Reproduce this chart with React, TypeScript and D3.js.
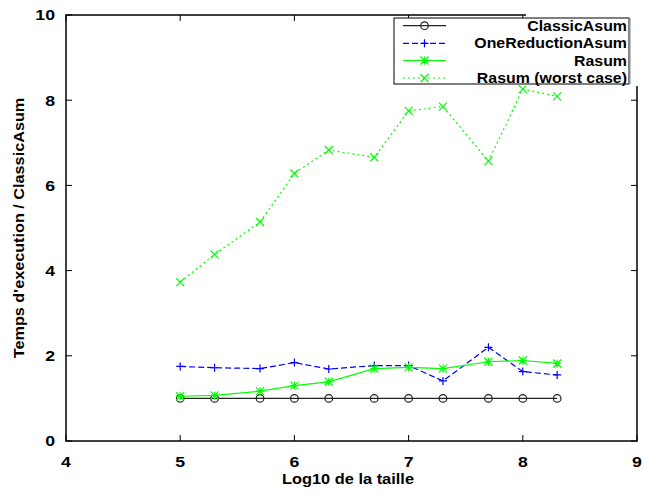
import React from "react";
import * as d3 from "d3";

const xValues = [5, 5.301, 5.699, 6, 6.301, 6.699, 7, 7.301, 7.699, 8, 8.301];
const classicAsum = [1, 1, 1, 1, 1, 1, 1, 1, 1, 1, 1];
const oneReductionAsum = [1.75, 1.72, 1.7, 1.84, 1.69, 1.77, 1.77, 1.41, 2.2, 1.63, 1.55];
const rasum = [1.05, 1.07, 1.17, 1.3, 1.39, 1.7, 1.73, 1.7, 1.86, 1.89, 1.82];
const rasumWorst = [3.73, 4.38, 5.14, 6.28, 6.83, 6.66, 7.75, 7.85, 6.57, 8.26, 8.09];
const xTicks = [4, 5, 6, 7, 8, 9];
const yTicks = [0, 2, 4, 6, 8, 10];
const seriesNames = ["ClassicAsum", "OneReductionAsum", "Rasum", "Rasum (worst case)"];

const W = 645, H = 492;
const L = 66, R = 637, T = 15, B = 441;
const FONT = "'Liberation Sans', Arial, Helvetica, sans-serif";

type Marker = "circle" | "plus" | "star" | "cross";

function MarkerShape({ type, x, y, color }: { type: Marker; x: number; y: number; color: string }) {
  const s = 4;
  if (type === "circle") return <circle cx={x} cy={y} r={3.8} fill="none" stroke={color} strokeWidth={1.2} />;
  const plus = `M${x - s},${y}H${x + s}M${x},${y - s}V${y + s}`;
  const cross = `M${x - s},${y - s}L${x + s},${y + s}M${x - s},${y + s}L${x + s},${y - s}`;
  const d = type === "plus" ? plus : type === "cross" ? cross : plus + cross;
  return <path d={d} stroke={color} strokeWidth={1.2} fill="none" />;
}

function T2({ x, y, anchor, size, sx, rotate, children }: { x: number; y: number; anchor: string; size: number; sx: number; rotate?: number; children: React.ReactNode }) {
  return (
    <text
      transform={`translate(${x},${y})${rotate ? ` rotate(${rotate})` : ""} scale(${sx},1)`}
      textAnchor={anchor}
      fontSize={size}
      fontWeight="bold"
    >
      {children}
    </text>
  );
}

export default function App() {
  const x = d3.scaleLinear().domain([4, 9]).range([L, R]);
  const y = d3.scaleLinear().domain([0, 10]).range([B, T]);
  const line = d3.line<[number, number]>().x((d) => x(d[0])).y((d) => y(d[1]));

  const series = [
    { name: seriesNames[0], vals: classicAsum, color: "#222", dash: undefined as string | undefined, marker: "circle" as Marker },
    { name: seriesNames[1], vals: oneReductionAsum, color: "#0000ff", dash: "6,3", marker: "plus" as Marker },
    { name: seriesNames[2], vals: rasum, color: "#00ff00", dash: undefined, marker: "star" as Marker },
    { name: seriesNames[3], vals: rasumWorst, color: "#00ff00", dash: "2,3", marker: "cross" as Marker },
  ];

  const legendRows = [25.7, 43.3, 60.5, 78];

  return (
    <svg width={W} height={H} style={{ position: "absolute", left: 0, top: 0, background: "#fff" }} fontFamily={FONT}>
      <rect x={0} y={0} width={W} height={H} fill="#fff" />
      {/* ticks */}
      {xTicks.map((t) => (
        <g key={"xt" + t}>
          <line x1={x(t)} x2={x(t)} y1={B} y2={B - 6} stroke="#000" />
          <line x1={x(t)} x2={x(t)} y1={T} y2={T + 6} stroke="#000" />
          <T2 x={x(t)} y={467} anchor="middle" size={15} sx={1.18}>{t}</T2>
        </g>
      ))}
      {yTicks.map((t) => (
        <g key={"yt" + t}>
          <line x1={L} x2={L + 6} y1={y(t)} y2={y(t)} stroke="#000" />
          <line x1={R} x2={R - 6} y1={y(t)} y2={y(t)} stroke="#000" />
          <T2 x={55} y={y(t) + 5.3} anchor="end" size={15} sx={1.18}>{t}</T2>
        </g>
      ))}
      {/* series */}
      {series.map((s) => {
        const pts = xValues.map((xv, i) => [xv, s.vals[i]] as [number, number]);
        return (
          <g key={s.name}>
            <path d={line(pts) || ""} fill="none" stroke={s.color} strokeWidth={1.2} strokeDasharray={s.dash} />
            {pts.map((p, i) => (
              <MarkerShape key={i} type={s.marker} x={x(p[0])} y={y(p[1])} color={s.color} />
            ))}
          </g>
        );
      })}
      {/* frame */}
      <rect x={L} y={T} width={R - L} height={B - T} fill="none" stroke="#000" strokeWidth={1.5} />
      {/* legend */}
      <rect x={526} y={0} width={W - 526} height={86} fill="#fff" />
      <rect x={394} y={18} width={235} height={66} fill="#fff" stroke="#000" strokeWidth={1} />
      <line x1={629.5} x2={629.5} y1={18} y2={84} stroke="#888" strokeWidth={2} />
      {series.map((s, i) => (
        <g key={"lg" + i}>
          <line x1={403} x2={446} y1={legendRows[i]} y2={legendRows[i]} stroke={s.color} strokeWidth={1.2} strokeDasharray={s.dash} />
          <MarkerShape type={s.marker} x={424.5} y={legendRows[i]} color={s.color} />
          <T2 x={627} y={legendRows[i] + 5} anchor="end" size={14.2} sx={1.12}>{s.name}</T2>
        </g>
      ))}
      {/* axis titles */}
      <T2 x={348} y={484} anchor="middle" size={14.5} sx={1.13}>Log10 de la taille</T2>
      <T2 x={24} y={(T + B) / 2} anchor="middle" size={14.5} sx={1.12} rotate={-90}>Temps d'execution / ClassicAsum</T2>
    </svg>
  );
}
